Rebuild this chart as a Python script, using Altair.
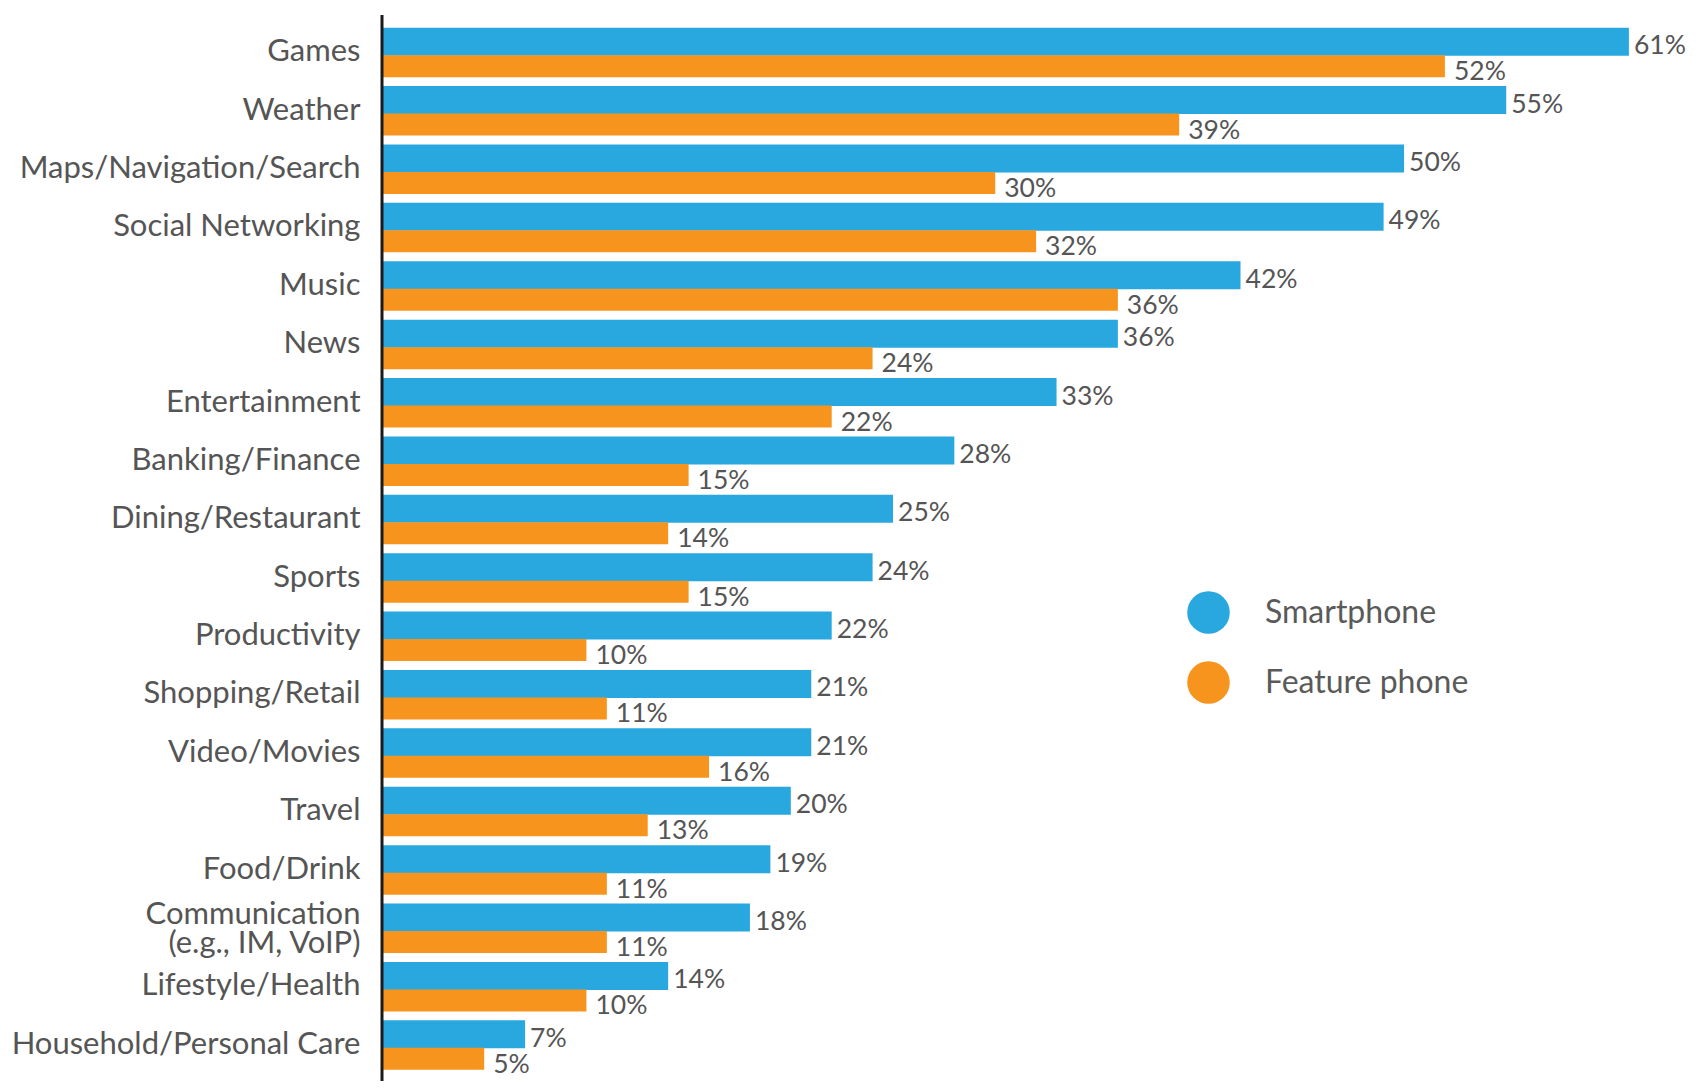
import altair as alt
import pandas as pd

categories = [
    "Games", "Weather", "Maps/Navigation/Search", "Social Networking", "Music",
    "News", "Entertainment", "Banking/Finance", "Dining/Restaurant", "Sports",
    "Productivity", "Shopping/Retail", "Video/Movies", "Travel", "Food/Drink",
    "Communication\n(e.g., IM, VoIP)", "Lifestyle/Health", "Household/Personal Care",
]
smartphone = [61, 55, 50, 49, 42, 36, 33, 28, 25, 24, 22, 21, 21, 20, 19, 18, 14, 7]
feature_phone = [52, 39, 30, 32, 36, 24, 22, 15, 14, 15, 10, 11, 16, 13, 11, 11, 10, 5]
series = ["Smartphone", "Feature phone"]
colors = ["#29A8E0", "#F7941D"]

rows = []
for c, s, f in zip(categories, smartphone, feature_phone):
    rows.append({"category": c, "series": series[0], "value": s, "label": f"{s}%"})
    rows.append({"category": c, "series": series[1], "value": f, "label": f"{f}%"})
df = pd.DataFrame(rows)

W, H = 1298, 1051
FONT = "Lato"

y_enc = alt.Y(
    "category:N", sort=categories, title=None,
    scale=alt.Scale(paddingInner=0, paddingOuter=0),
    axis=alt.Axis(
        domain=False, ticks=False, labelPadding=22, labelLimit=400,
        labelFont=FONT, labelFontSize=31, labelColor="#555555",
        labelLineHeight=29, labelExpr="split(datum.label, '\\n')",
        labelOffset={"condition": {"test": "indexof(datum.value, 'Communication') >= 0",
                                   "value": -13}, "value": 0},
    ),
)
x_enc = alt.X("value:Q", title=None, axis=None,
              scale=alt.Scale(domain=[0, 63.5], nice=False, zero=True))
color_enc = alt.Color(
    "series:N", title=None,
    scale=alt.Scale(domain=series, range=colors),
    legend=alt.Legend(
        orient="none", legendX=805, legendY=568, direction="vertical",
        symbolType="circle", symbolSize=1810, symbolStrokeWidth=0,
        labelFont=FONT, labelFontSize=32, labelColor="#5a5a5a", labelLimit=400,
        labelOffset=35, rowPadding=27, padding=0, offset=0,
    ),
)

base = alt.Chart(df)

blue = base.transform_filter(alt.datum.series == series[0]).mark_bar(
    height=28, yOffset=-10.5
).encode(x=x_enc, y=y_enc, color=color_enc)

orange = base.transform_filter(alt.datum.series == series[1]).mark_bar(
    height=22, yOffset=14
).encode(x=x_enc, y=y_enc, color=color_enc)

blue_txt = base.transform_filter(alt.datum.series == series[0]).mark_text(
    align="left", baseline="middle", dx=5, yOffset=-6, font=FONT,
    fontSize=26.5, color="#555555"
).encode(x=x_enc, y=y_enc, text="label:N")

orange_txt = base.transform_filter(alt.datum.series == series[1]).mark_text(
    align="left", baseline="middle", dx=9, yOffset=20, font=FONT,
    fontSize=26.5, color="#555555"
).encode(x=x_enc, y=y_enc, text="label:N")

axis_line = alt.Chart(pd.DataFrame({"v": [0]})).mark_rule(
    color="#1a1a1a", strokeWidth=3
).encode(x=alt.value(0), y=alt.value(-8), y2=alt.value(H + 20))

chart = alt.layer(blue, orange, blue_txt, orange_txt, axis_line).properties(
    width=W, height=H,
    autosize=alt.AutoSizeParams(type="none"),
    padding={"left": 374, "top": 15, "right": 8, "bottom": 7},
    background="white",
).configure_view(stroke=None)

chart.save("out.html", embed_options={"renderer": "svg", "actions": False})
